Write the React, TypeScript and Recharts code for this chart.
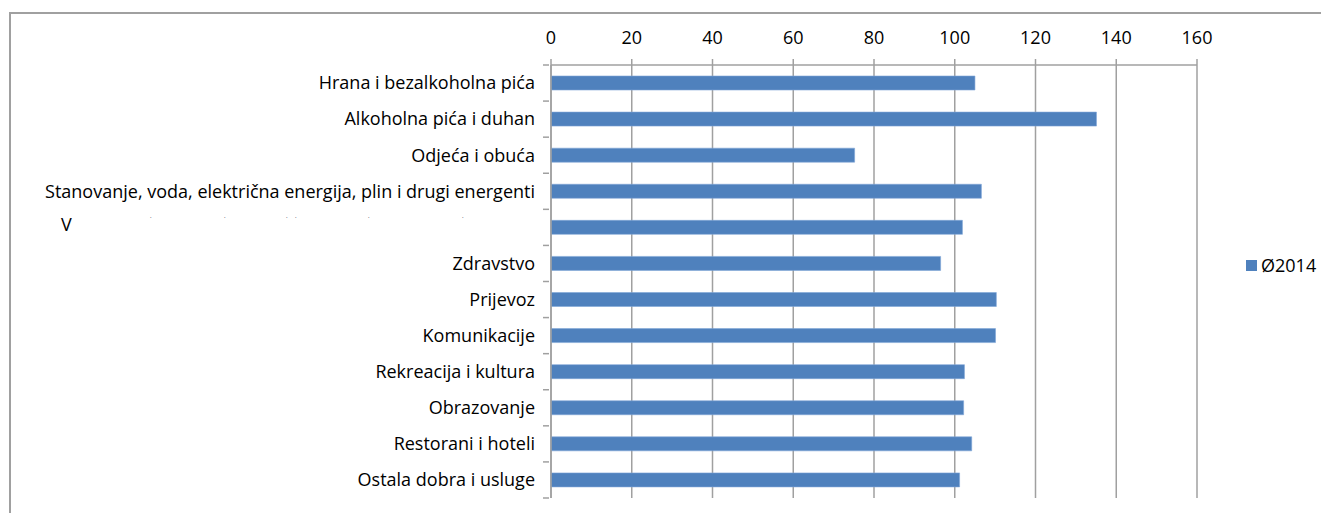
import React from "react";
import { Bar, BarChart, CartesianGrid, Legend, XAxis, YAxis } from "recharts";

const categories = [
  "Hrana i bezalkoholna pića",
  "Alkoholna pića i duhan",
  "Odjeća i obuća",
  "Stanovanje, voda, električna energija, plin i drugi energenti",
  "V",
  "Zdravstvo",
  "Prijevoz",
  "Komunikacije",
  "Rekreacija i kultura",
  "Obrazovanje",
  "Restorani i hoteli ",
  "Ostala dobra i usluge",
];

const avg2014 = [105.0, 135.1, 75.2, 106.6, 101.9, 96.5, 110.3, 110.1, 102.4, 102.2, 104.2, 101.2];

const xTicks = [0, 20, 40, 60, 80, 100, 120, 140, 160];

const seriesName = "Ø2014";

const chartData = categories.map((name, i) => ({ name, value: avg2014[i] }));

const BLUE = "#4F81BD";
const GRID = "#A0A0A0";
const FONT = "'Open Sans', 'Liberation Sans', Arial, sans-serif";

const CHART_W = 1321;
const CHART_H = 505;
const PLOT_TOP = 57;
const PLOT_BOTTOM = 490;
const BAND = (PLOT_BOTTOM - PLOT_TOP) / categories.length;
const LEGEND_W = 90;

// dots that show up in the broken fifth label
const brokenDots = [142, 216, 278, 287, 360, 454];

function CategoryTick(props: any) {
  const { x, y, payload } = props;
  const label: string = payload.value;
  return (
    <g>
      <line x1={x} x2={x + 6} y1={y - BAND / 2} y2={y - BAND / 2} stroke={GRID} strokeWidth={1.5} />
      {payload.index === categories.length - 1 && (
        <line x1={x} x2={x + 6} y1={y + BAND / 2} y2={y + BAND / 2} stroke={GRID} strokeWidth={1.5} />
      )}
      {label === "V" ? (
        <g>
          <text x={53} y={y - 3} dy="0.35em" fontSize={18} fill="#000" fontFamily={FONT}>
            V
          </text>
          {brokenDots.map((dx) => (
            <text key={dx} x={dx} y={y - 9} fontSize={6} fill="#000" fontFamily={FONT}>
              .
            </text>
          ))}
        </g>
      ) : (
        <text x={x - 8} y={y} dy="0.35em" textAnchor="end" fontSize={18} fill="#000" fontFamily={FONT}>
          {label}
        </text>
      )}
    </g>
  );
}

function LegendContent() {
  return (
    <div style={{ display: "flex", alignItems: "center", fontFamily: FONT, fontSize: 18, color: "#000" }}>
      <span style={{ width: 11, height: 11, background: BLUE, marginRight: 4, display: "inline-block" }} />
      <span>{seriesName}</span>
    </div>
  );
}

export default function App() {
  return (
    <div style={{ position: "relative", width: CHART_W, height: CHART_H }}>
      <div
        style={{
          position: "absolute",
          left: 1,
          top: 4,
          width: CHART_W,
          height: CHART_H,
          borderLeft: `2px solid ${GRID}`,
          borderTop: `2px solid ${GRID}`,
          boxSizing: "border-box",
        }}
      />
      <BarChart
        width={CHART_W}
        height={CHART_H}
        data={chartData}
        layout="vertical"
        margin={{ top: 0, right: 132 - LEGEND_W, bottom: CHART_H - PLOT_BOTTOM, left: 0 }}
        style={{ position: "absolute", left: 0, top: 0 }}
      >
        <CartesianGrid horizontal={false} stroke={GRID} strokeWidth={1.5} />
        <XAxis
          type="number"
          orientation="top"
          domain={[0, 160]}
          ticks={xTicks}
          height={PLOT_TOP}
          tickSize={6}
          tickMargin={15}
          stroke={GRID}
          strokeWidth={1.5}
          tick={{ fill: "#000", fontSize: 18, fontFamily: FONT }}
        />
        <YAxis
          type="category"
          dataKey="name"
          width={543}
          tickLine={false}
          stroke={GRID}
          strokeWidth={1.5}
          interval={0}
          tick={<CategoryTick />}
        />
        <Legend
          layout="horizontal"
          align="right"
          verticalAlign="middle"
          content={<LegendContent />}
          wrapperStyle={{ left: 1238, top: 245, right: "auto", width: LEGEND_W }}
        />
        <Bar dataKey="value" name={seriesName} fill={BLUE} barSize={14} stroke="#7FA6D6" strokeWidth={0.6} isAnimationActive={false} />
      </BarChart>
    </div>
  );
}
